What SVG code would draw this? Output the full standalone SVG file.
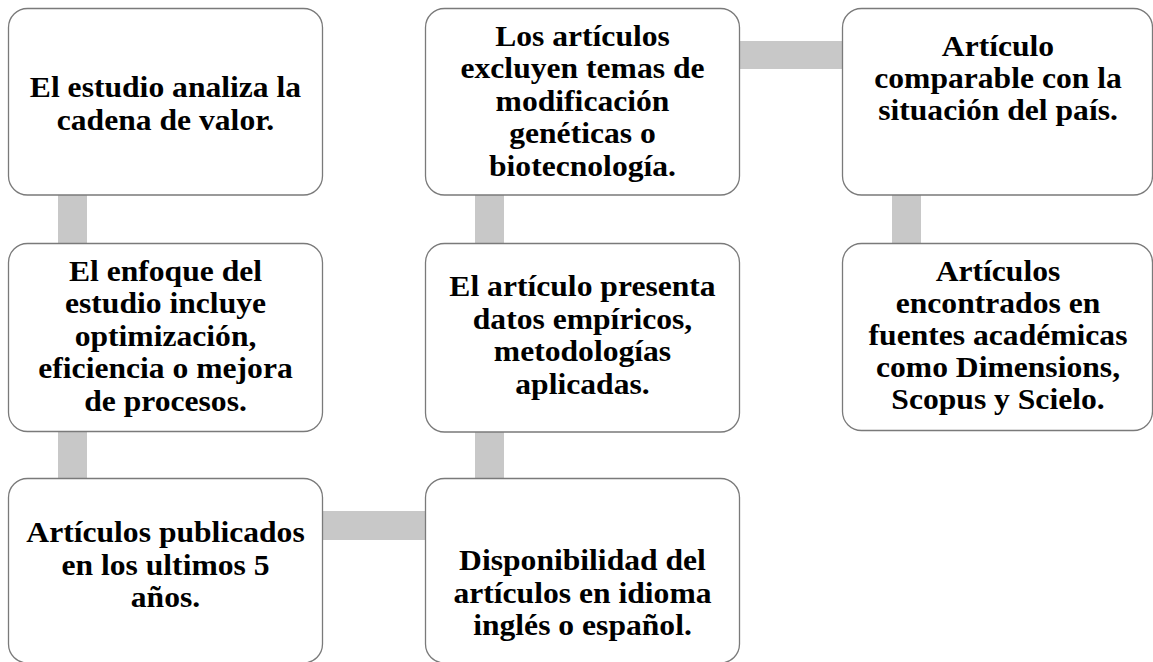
<svg xmlns="http://www.w3.org/2000/svg" width="1153" height="662" viewBox="0 0 1153 662">
<defs>
<style>
.box{fill:#ffffff;stroke:#7a7a7a;stroke-width:1.3}
.bar{fill:#c8c8c8}
.t{font-family:"Liberation Serif","Times New Roman",serif;font-weight:bold;font-size:29px;fill:#000;text-anchor:middle}
</style>
</defs>
<rect width="1153" height="662" fill="#ffffff"/>
<g id="connectors">
<rect class="bar" x="58" y="190" width="29" height="58"/>
<rect class="bar" x="58" y="426" width="29" height="57"/>
<rect class="bar" x="318" y="511" width="112" height="29"/>
<rect class="bar" x="475" y="427" width="29" height="57"/>
<rect class="bar" x="475" y="190" width="29" height="58"/>
<rect class="bar" x="735" y="41" width="112" height="28"/>
<rect class="bar" x="892" y="190" width="29" height="58"/>
</g>
<g id="n1">
<rect class="box" x="8.5" y="8.5" width="314" height="186.5" rx="19"/>
<text class="t" transform="translate(165.5 0) scale(1.09 1)"><tspan x="0" y="97">El estudio analiza la</tspan><tspan x="0" y="130">cadena de valor.</tspan></text>
</g>
<g id="n2">
<rect class="box" x="8.5" y="243.5" width="314" height="188" rx="19"/>
<text class="t" transform="translate(165.5 0) scale(1.09 1)"><tspan x="0" y="281">El enfoque del</tspan><tspan x="0" y="313.5">estudio incluye</tspan><tspan x="0" y="346">optimización,</tspan><tspan x="0" y="378.5">eficiencia o mejora</tspan><tspan x="0" y="411">de procesos.</tspan></text>
</g>
<g id="n3">
<rect class="box" x="8.5" y="478.5" width="314" height="184.5" rx="19"/>
<text class="t" transform="translate(165.5 0) scale(1.09 1)"><tspan x="0" y="542">Artículos publicados</tspan><tspan x="0" y="575">en los ultimos 5</tspan><tspan x="0" y="607">años.</tspan></text>
</g>
<g id="n4">
<rect class="box" x="425.5" y="8.5" width="314" height="186.5" rx="19"/>
<text class="t" transform="translate(582.5 0) scale(1.09 1)"><tspan x="0" y="46">Los artículos</tspan><tspan x="0" y="78.5">excluyen temas de</tspan><tspan x="0" y="111">modificación</tspan><tspan x="0" y="143.5">genéticas o</tspan><tspan x="0" y="176">biotecnología.</tspan></text>
</g>
<g id="n5">
<rect class="box" x="425.5" y="243.5" width="314" height="188.5" rx="19"/>
<text class="t" transform="translate(582.5 0) scale(1.09 1)"><tspan x="0" y="296">El artículo presenta</tspan><tspan x="0" y="329">datos empíricos,</tspan><tspan x="0" y="361.5">metodologías</tspan><tspan x="0" y="394">aplicadas.</tspan></text>
</g>
<g id="n6">
<rect class="box" x="425.5" y="478.5" width="314" height="184.5" rx="19"/>
<text class="t" transform="translate(582.5 0) scale(1.09 1)"><tspan x="0" y="570">Disponibilidad del</tspan><tspan x="0" y="603">artículos en idioma</tspan><tspan x="0" y="635">inglés o español.</tspan></text>
</g>
<g id="n7">
<rect class="box" x="842.5" y="8.5" width="310" height="186.5" rx="19"/>
<text class="t" transform="translate(998 0) scale(1.09 1)"><tspan x="0" y="56">Artículo</tspan><tspan x="0" y="88">comparable con la</tspan><tspan x="0" y="120">situación del país.</tspan></text>
</g>
<g id="n8">
<rect class="box" x="842.5" y="243.5" width="310" height="187" rx="19"/>
<text class="t" transform="translate(998 0) scale(1.09 1)"><tspan x="0" y="281">Artículos</tspan><tspan x="0" y="313">encontrados en</tspan><tspan x="0" y="345">fuentes académicas</tspan><tspan x="0" y="377">como Dimensions,</tspan><tspan x="0" y="409">Scopus y Scielo.</tspan></text>
</g>
</svg>
